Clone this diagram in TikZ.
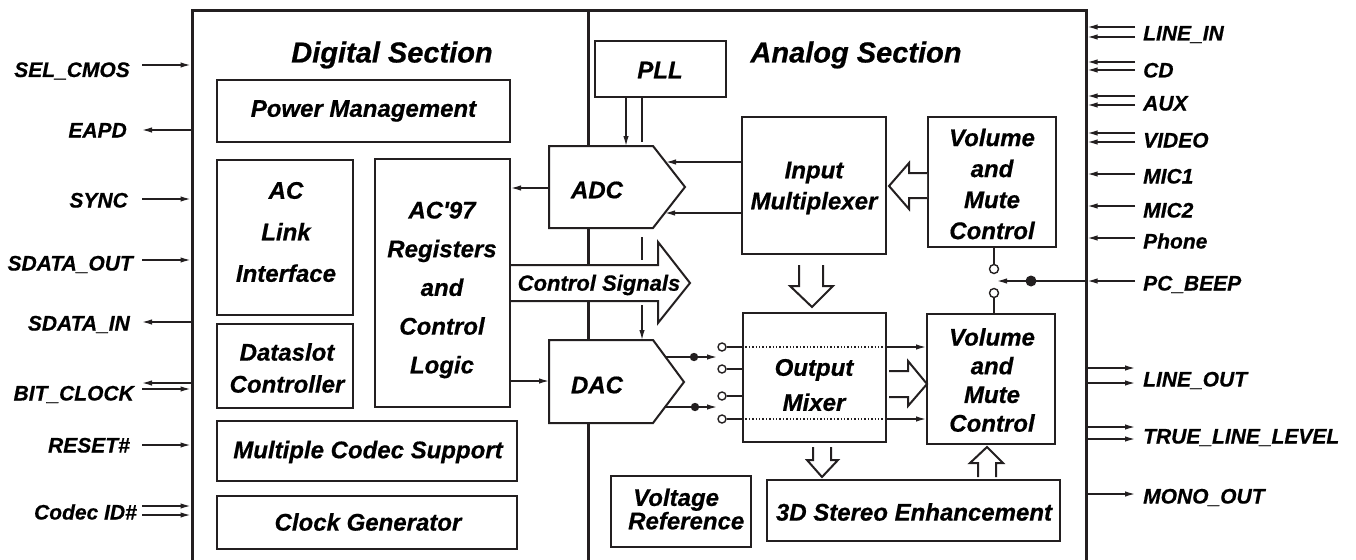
\documentclass[tikz,border=0pt]{standalone}
\usepackage{fontspec}
\setmainfont{Liberation Sans}[BoldItalicFeatures={FakeBold=0.6}]
\usetikzlibrary{arrows.meta,calc,fit}
\definecolor{ink}{RGB}{35,31,32}
\newcommand\bfi[2]{\fontsize{#1}{#2}\selectfont\bfseries\itshape}
\begin{document}
\begin{tikzpicture}[x=1pt,y=-1pt,
  box/.style={draw=ink,line width=2pt,inner sep=0pt},
  lbl/.style={font=\bfi{24}{29},align=center,inner sep=0pt},
  pinl/.style={font=\bfi{21}{24},inner sep=0pt,text height=15pt,text depth=0pt,anchor=east},
  pinr/.style={pinl,anchor=west},
  arr/.style={draw=ink,line width=1.4pt,-{Latex[length=10pt,width=5.5pt]}},
  ln/.style={draw=ink,line width=1.4pt},
  hollow/.style={draw=ink,line width=2pt,fill=white,line join=miter},
  contact/.style={circle,draw=ink,fill=white,line width=1.4pt,minimum size=8pt,inner sep=0pt},
  frame/.style={draw=ink,line width=3pt,line join=miter}]
\useasboundingbox (0,0) rectangle (1356,559);

% frame and divider
\draw[frame] (192,575) -- (192,11) -- (1086,11) -- (1086,575);
\draw[frame] (588,11) -- (588,575);
\coordinate (LA) at (142,0);
\coordinate (LB) at (192,0);
\coordinate (RB) at (1086,0);
\coordinate (RA) at (1135,0);

% titles
\node[font=\bfi{29}{32},inner sep=0pt] (dtitle) at (392,55) {Digital Section};
\node[font=\bfi{29}{32},inner sep=0pt] (atitle) at (856,55) {Analog Section};

% control signals hollow arrow
\draw[hollow] (511,265) -- (658,265) -- (658,242) -- (690,283) -- (658,323) -- (658,301) -- (511,301);
\node[font=\bfi{22}{24},inner sep=0pt] (csig) at (599,285) {Control Signals};

% ADC and DAC
\draw[hollow] (549,146) -- (653,146) -- (685,187) -- (653,228) -- (549,228) -- cycle;
\node[lbl] (adc) at (597,190) {ADC};
\draw[hollow] (549,340) -- (653,340) -- (684,382) -- (653,423) -- (549,423) -- cycle;
\node[lbl] (dac) at (597,385) {DAC};

% digital boxes
\node[box,fit={(217,80)(510,142)}] (pm) {};
\node[lbl] at (pm.center) {Power Management};
\node[box,fit={(217,160)(353,315)}] (acl) {};
\node[lbl,font=\bfi{24}{41.5}] at (286,232) {AC\\Link\\Interface};
\node[box,fit={(375,159)(510,407)}] (ac97) {};
\node[lbl,font=\bfi{24}{38.7}] at (442,290) {AC\textquotesingle97\\Registers\\and\\Control\\Logic};
\node[box,fit={(217,324)(353,408)}] (dsc) {};
\node[lbl,font=\bfi{24}{32}] at (287,368) {Dataslot\\Controller};
\node[box,fit={(217,421)(517,481)}] (mcs) {};
\node[lbl] at (368,452) {Multiple Codec Support};
\node[box,fit={(217,496)(517,549)}] (clk) {};
\node[lbl] at (368,522) {Clock Generator};

% analog boxes
\node[box,fit={(595,41)(726,97)}] (pll) {};
\node[lbl] at (660,70) {PLL};
\node[box,fit={(742,117)(886,254)}] (mux) {};
\node[lbl,font=\bfi{24}{31}] at (814,188) {Input\\Multiplexer};
\node[box,fit={(928,117)(1056,247)}] (vu) {};
\node[lbl,font=\bfi{24}{31}] at (992,184) {Volume\\and\\Mute\\Control};
\node[box,fit={(743,313)(886,442)}] (om) {};
\node[lbl,font=\bfi{24}{35}] at (814,385) {Output\\Mixer};
\node[box,fit={(927,314)(1055,444)}] (vl) {};
\node[lbl,font=\bfi{24}{28.7}] at (992,380) {Volume\\and\\Mute\\Control};
\node[box,fit={(611,476)(751,547)}] (vref) {};
\node[lbl,font=\bfi{24}{22},align=left,anchor=west] at (628,509) {\hspace*{5pt}Voltage\\Reference};
\node[box,fit={(767,480)(1060,541)}] (sde) {};
\node[lbl] at (914,512) {3D Stereo Enhancement};

% hollow arrows (analog)
\draw[hollow] (927,173) -- (909,173) -- (909,163) -- (889,186) -- (909,209) -- (909,198) -- (927,198);
\draw[hollow] (799,265) -- (799,286) -- (790,286) -- (812,307) -- (833,286) -- (823,286) -- (823,265);
\draw[hollow] (889,371) -- (908,371) -- (908,361) -- (927,384) -- (908,406) -- (908,397) -- (889,397);
\draw[hollow] (813,447) -- (813,460) -- (807,460) -- (822,477) -- (838,460) -- (831,460) -- (831,447);
\draw[hollow] (978,477) -- (978,463) -- (970,463) -- (987,447) -- (1003,463) -- (996,463) -- (996,477);

% ADC / DAC connectors
\coordinate (adcW) at (549,188);
\draw[arr] (adcW) -- (adcW -| ac97.east);
\coordinate (adcI1) at (666,162);
\coordinate (adcI2) at (665,213);
\draw[arr] (adcI1 -| mux.west) -- (adcI1);
\draw[arr] (adcI2 -| mux.west) -- (adcI2);
\coordinate (adcT1) at (626,146);
\coordinate (adcT2) at (642,142);
\draw[arr] (adcT1 |- pll.south) -- (adcT1);
\draw[ln] (adcT2 |- pll.south) -- (adcT2);
\coordinate (cs1) at (642,237);
\coordinate (cs2) at (642,260);
\draw[ln] (cs1) -- (cs2);
\coordinate (dacT) at (642,340);
\draw[arr] (642,305) -- (dacT);
\coordinate (dacW) at (549,381);
\draw[arr] (dacW -| ac97.east) -- (dacW);

% DAC outputs and switch contacts
\node[contact] (sw1) at (722,347) {};
\node[contact] (sw2) at (722,369) {};
\node[contact] (sw3) at (722,396) {};
\node[contact] (sw4) at (722,419) {};
\coordinate (do1) at (666,357);
\coordinate (do2) at (665,407);
\draw[arr] (do1) -- (717,357);
\draw[arr] (do2) -- (717,407);
\fill[ink] (694,357) circle (4.2);
\fill[ink] (695,407) circle (4.2);
\foreach \s in {sw1,sw2,sw3,sw4} \draw[ln] (\s.east) -- (\s -| om.west);
\draw[ink,line width=1.4pt,dotted] (sw1 -| om.west) -- (sw1 -| om.east);
\draw[ink,line width=1.4pt,dotted] (sw4 -| om.west) -- (sw4 -| om.east);
\draw[arr] (sw1 -| om.east) -- (sw1 -| vl.west);
\draw[arr] (sw4 -| om.east) -- (sw4 -| vl.west);

% PC_BEEP switch
\node[contact,minimum size=9pt] (pc1) at (994,269) {};
\node[contact,minimum size=9pt] (pc2) at (994,293) {};
\draw[ln] (pc1 |- vu.south) -- (pc1.north);
\draw[ln] (pc2.south) -- (pc2 |- vl.north);
\coordinate (pct) at (997,281);
\draw[arr] (pct -| RB) -- (pct);
\fill[ink] (1031,281) circle (5.5);

% left pins
\node[pinl] (selcmos) at (130,69.5) {SEL\_CMOS};
\draw[arr,shorten >=1.5pt] ($(LA|-selcmos)+(0,-4.5)$) -- ($(LB|-selcmos)+(0,-4.5)$);
\node[pinl] (eapd) at (127,130) {EAPD};
\draw[arr] (LB|-eapd) -- (LA|-eapd);
\node[pinl] (sync) at (128,200) {SYNC};
\draw[arr,shorten >=1.5pt] ($(LA|-sync)+(0,-1)$) -- ($(LB|-sync)+(0,-1)$);
\node[pinl] (sdo) at (133,263) {SDATA\_OUT};
\draw[arr,shorten >=1.5pt] ($(LA|-sdo)+(0,-3)$) -- ($(LB|-sdo)+(0,-3)$);
\node[pinl] (sdi) at (130,323) {SDATA\_IN};
\draw[arr] ($(LB|-sdi)+(0,-1)$) -- ($(LA|-sdi)+(0,-1)$);
\node[pinl] (bclk) at (134,393) {BIT\_CLOCK};
\draw[arr] ($(LB|-bclk)+(0,-10)$) -- ($(LA|-bclk)+(0,-10)$);
\draw[arr,shorten >=1.5pt] ($(LA|-bclk)+(0,-4)$) -- ($(LB|-bclk)+(0,-4)$);
\node[pinl] (rst) at (130,445) {RESET\#};
\draw[arr,shorten >=1.5pt] (LA|-rst) -- (LB|-rst);
\node[pinl] (cid) at (137,512) {Codec ID\#};
\draw[arr,shorten >=1.5pt] ($(LA|-cid)+(0,-6)$) -- ($(LB|-cid)+(0,-6)$);
\draw[arr,shorten >=1.5pt] ($(LA|-cid)+(0,3)$) -- ($(LB|-cid)+(0,3)$);

% right pins
\node[pinr] (linein) at (1143,33) {LINE\_IN};
\draw[arr,shorten >=1.5pt] ($(RA|-linein)+(0,-6)$) -- ($(RB|-linein)+(0,-6)$);
\draw[arr,shorten >=1.5pt] ($(RA|-linein)+(0,4)$) -- ($(RB|-linein)+(0,4)$);
\node[pinr] (cd) at (1143,70) {CD};
\draw[arr,shorten >=1.5pt] ($(RA|-cd)+(0,-8)$) -- ($(RB|-cd)+(0,-8)$);
\draw[arr,shorten >=1.5pt] ($(RA|-cd)+(0,0)$) -- ($(RB|-cd)+(0,0)$);
\node[pinr] (aux) at (1143,103) {AUX};
\draw[arr,shorten >=1.5pt] ($(RA|-aux)+(0,-7)$) -- ($(RB|-aux)+(0,-7)$);
\draw[arr,shorten >=1.5pt] ($(RA|-aux)+(0,2)$) -- ($(RB|-aux)+(0,2)$);
\node[pinr] (video) at (1143,140) {VIDEO};
\draw[arr,shorten >=1.5pt] ($(RA|-video)+(0,-7)$) -- ($(RB|-video)+(0,-7)$);
\draw[arr,shorten >=1.5pt] ($(RA|-video)+(0,2)$) -- ($(RB|-video)+(0,2)$);
\node[pinr] (mic1) at (1143,176) {MIC1};
\draw[arr,shorten >=1.5pt] ($(RA|-mic1)+(0,-2)$) -- ($(RB|-mic1)+(0,-2)$);
\node[pinr] (mic2) at (1143,210) {MIC2};
\draw[arr,shorten >=1.5pt] ($(RA|-mic2)+(0,-4)$) -- ($(RB|-mic2)+(0,-4)$);
\node[pinr] (phone) at (1143,241) {Phone};
\draw[arr,shorten >=1.5pt] ($(RA|-phone)+(0,-3)$) -- ($(RB|-phone)+(0,-3)$);
\node[pinr] (pcbeep) at (1143,283) {PC\_BEEP};
\draw[arr,shorten >=1.5pt] ($(RA|-pcbeep)+(0,-2)$) -- ($(RB|-pcbeep)+(0,-2)$);
\node[pinr] (lineout) at (1143,379) {LINE\_OUT};
\draw[arr] ($(RB|-lineout)+(0,-11)$) -- ($(RA|-lineout)+(0,-11)$);
\draw[arr] ($(RB|-lineout)+(0,4)$) -- ($(RA|-lineout)+(0,4)$);
\node[pinr] (tll) at (1143,436) {TRUE\_LINE\_LEVEL};
\draw[arr] ($(RB|-tll)+(0,-9)$) -- ($(RA|-tll)+(0,-9)$);
\draw[arr] ($(RB|-tll)+(0,3)$) -- ($(RA|-tll)+(0,3)$);
\node[pinr] (mono) at (1143,496) {MONO\_OUT};
\draw[arr] ($(RB|-mono)+(0,-2)$) -- ($(RA|-mono)+(0,-2)$);
\end{tikzpicture}
\end{document}
